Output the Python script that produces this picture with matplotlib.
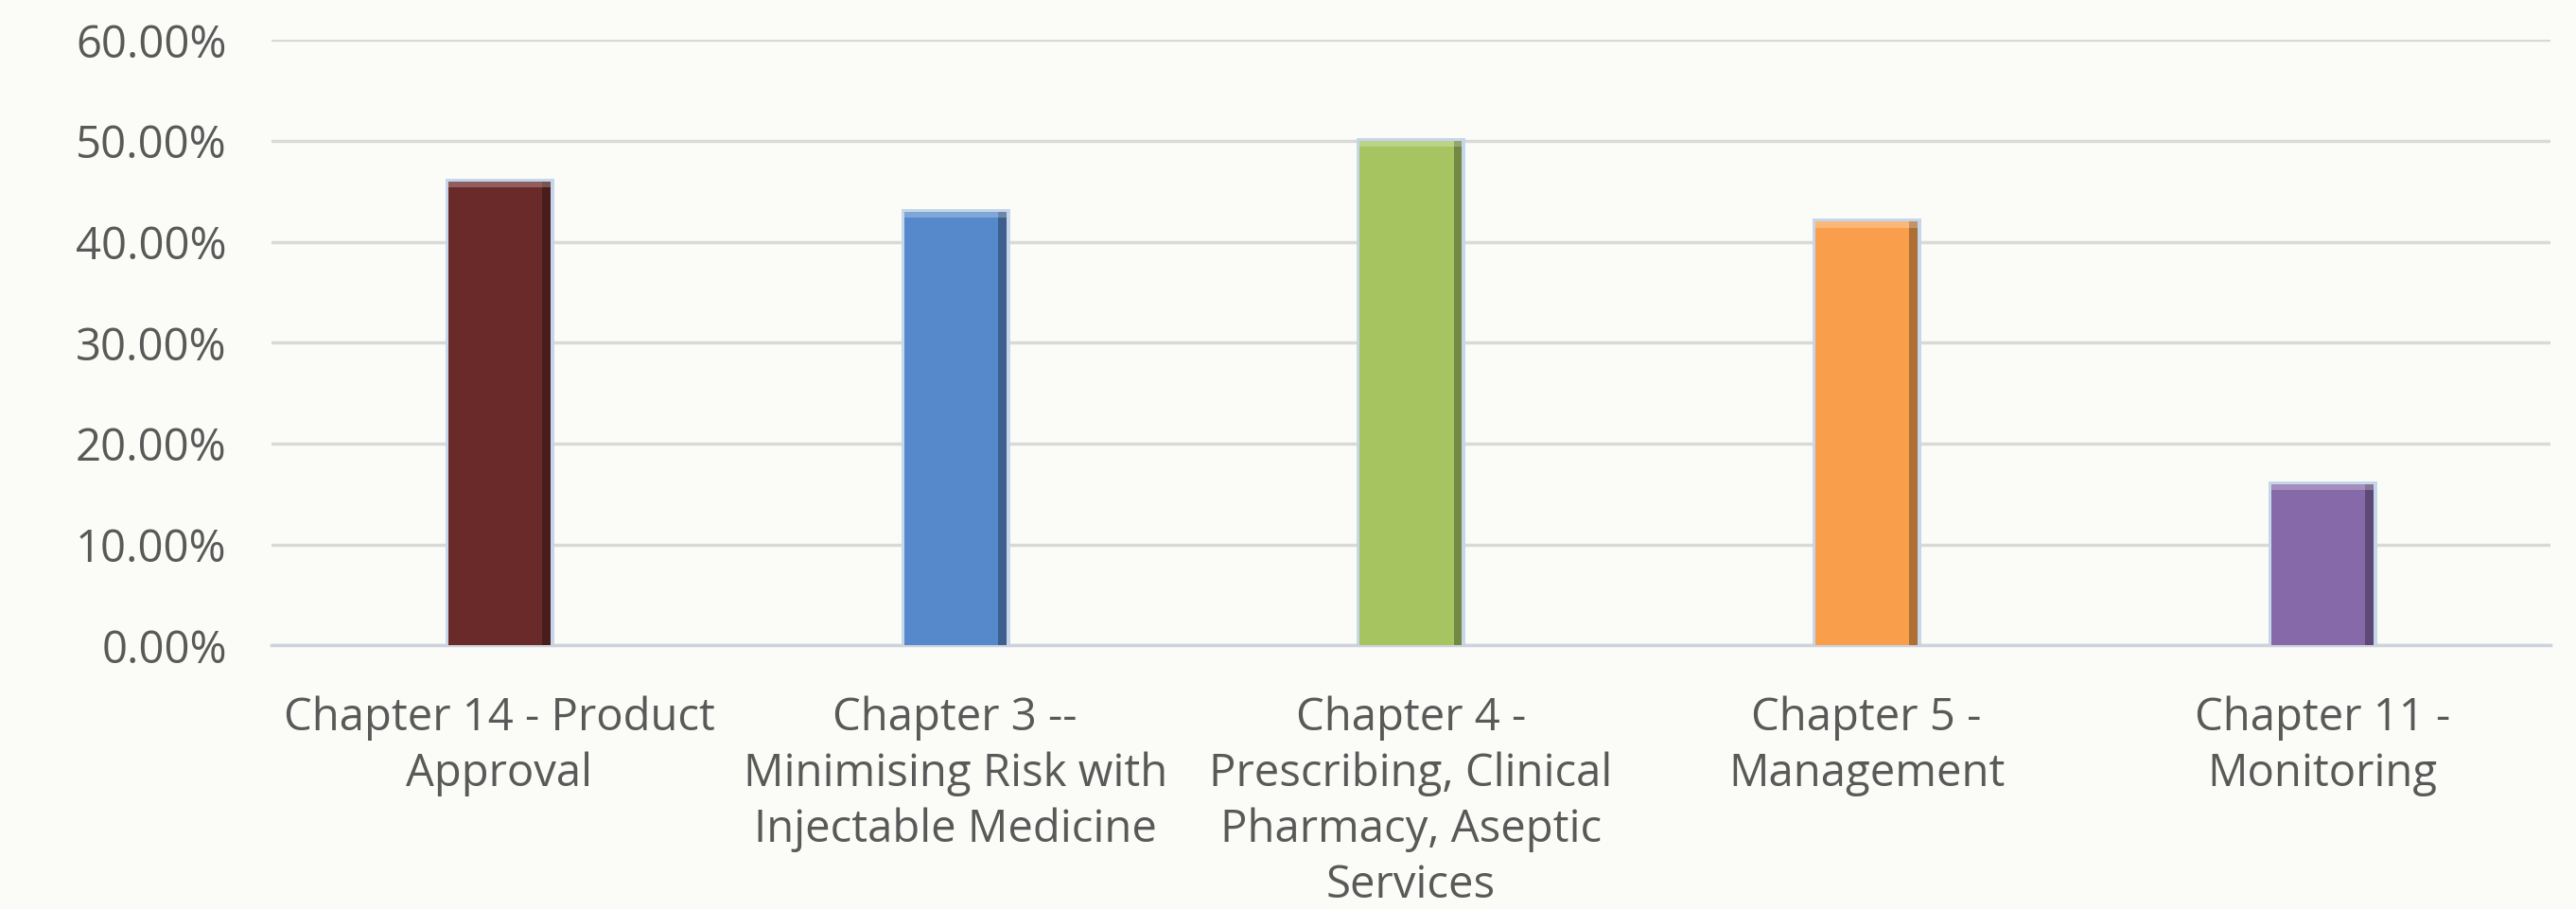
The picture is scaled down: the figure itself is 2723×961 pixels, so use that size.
import matplotlib.pyplot as plt
from matplotlib.ticker import FuncFormatter
import numpy as np

categories = ["Chapter 14 - Product\nApproval",
              "Chapter 3 --\nMinimising Risk with\nInjectable Medicine",
              "Chapter 4 -\nPrescribing, Clinical\nPharmacy, Aseptic\nServices",
              "Chapter 5 -\nManagement",
              "Chapter 11 -\nMonitoring"]
values = [0.46, 0.43, 0.50, 0.42, 0.16]
colors = ["#6a2a2a", "#5689cb", "#a6c45f", "#f99f4b", "#8669a8"]
yticks = [0.0, 0.1, 0.2, 0.3, 0.4, 0.5, 0.6]

plt.rcParams['font.family'] = ['Open Sans', 'DejaVu Sans']

fig = plt.figure(figsize=(27.23, 9.61), dpi=100)
fig.patch.set_facecolor("#fbfbf7")
ax = fig.add_axes([0.1054, 0.290, 0.8846, 0.666])
ax.set_facecolor("none")

x = np.arange(len(values))
w = 0.224
# soft glow around bars
ax.bar(x, values, width=w, color="none", edgecolor="#c5d6ea", linewidth=5, zorder=2)
ax.bar(x, values, width=w, color=colors, edgecolor="none", zorder=3)
# darker right edge for a bevel look
ax.bar(x + w / 2 - 0.009, values, width=0.018, color="black", alpha=0.3, edgecolor="none", zorder=4)
# light top edge
ax.bar(x, [0.006] * len(values), bottom=np.array(values) - 0.006, width=w,
       color="white", alpha=0.25, edgecolor="none", zorder=4)

ax.set_xlim(-0.5, len(values) - 0.5)
ax.set_ylim(0, 0.6)
ax.set_yticks(yticks)
ax.yaxis.set_major_formatter(FuncFormatter(lambda v, p: "%.2f%%" % (v * 100)))
ax.set_xticks(x)
ax.set_xticklabels(categories, linespacing=1.32)

ax.grid(axis="y", color="#d9d9d9", linewidth=2.5, zorder=0)
ax.set_axisbelow(True)
for s in ["top", "right", "left"]:
    ax.spines[s].set_visible(False)
ax.spines["bottom"].set_color("#ccd3dc")
ax.spines["bottom"].set_linewidth(2.5)
ax.tick_params(axis="both", length=0, labelsize=34, colors="#595959")
ax.tick_params(axis="y", pad=34)
ax.tick_params(axis="x", pad=38)

fig.savefig("out.png", dpi=100, facecolor=fig.get_facecolor())
